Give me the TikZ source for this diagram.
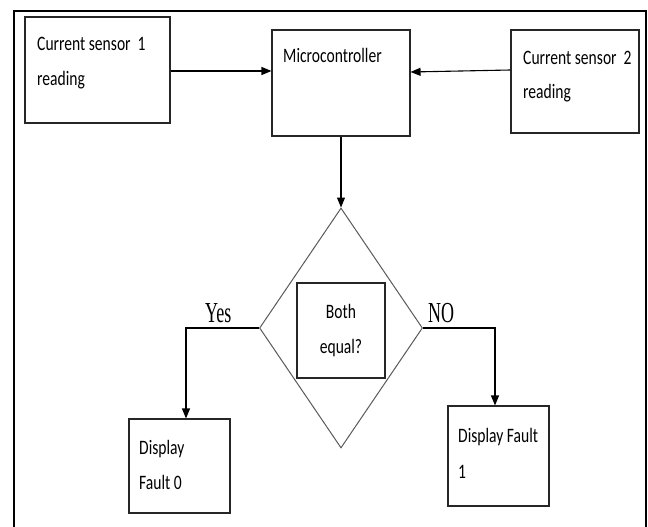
\documentclass[tikz,border=0pt]{standalone}
\usepackage{fontspec}
\setmainfont{Carlito}[FakeStretch=0.76]
\newfontfamily\tnr{Liberation Serif}[FakeStretch=0.62]
\usetikzlibrary{arrows.meta,shapes.geometric}
\begin{document}
\begin{tikzpicture}[x=1pt,y=-1pt,
  box/.style={draw=black!85,line width=1.1pt,inner sep=0pt,rectangle},
  txt/.style={anchor=base west,inner sep=0pt,font=\fontsize{20.5}{24}\selectfont},
  ctxt/.style={anchor=base,inner sep=0pt,font=\fontsize{20.5}{24}\selectfont},
  lbl/.style={anchor=base west,inner sep=0pt,font=\tnr\fontsize{29}{30}\selectfont},
  arr/.style={line width=1.1pt,-{Triangle[length=10pt,width=8pt]}},
  ln/.style={line width=1pt,draw=black!80}]
\useasboundingbox (0,0) rectangle (648,527);
\draw[line width=1.8pt] (14,527) -- (14,11) -- (646,11) -- (646,527);
% boxes
\node[box,minimum width=145pt,minimum height=106pt] (s1) at (97.5,70) {};
\node[box,minimum width=138pt,minimum height=106pt] (m) at (341,83) {};
\node[box,minimum width=128pt,minimum height=103pt] (s2) at (575,81.5) {};
\node[draw=black!65,line width=1pt,diamond,inner sep=0pt,minimum width=163pt,minimum height=240pt] (d) at (341,328) {};
\node[box,minimum width=88pt,minimum height=95pt] (q) at (341,330.5) {};
\node[box,minimum width=101pt,minimum height=94pt] (f0) at (179.5,466) {};
\node[box,minimum width=101pt,minimum height=100pt] (f1) at (498.5,456) {};
% texts
\node[txt] (s1a) at (37,51) {Current sensor\, 1};
\node[txt] (s1b) at (37,85) {reading};
\node[txt] (ma) at (283,63) {Microcontroller};
\node[txt] (s2a) at (523,65) {Current sensor\, 2};
\node[txt] (s2b) at (523,99) {reading};
\node[ctxt] (qa) at (341,318) {Both};
\node[ctxt] (qb) at (341,353) {equal?};
\node[txt] (f0a) at (139,454) {Display};
\node[txt] (f0b) at (139,489) {Fault 0};
\node[txt] (f1a) at (458,442) {Display Fault};
\node[txt] (f1b) at (458,478) {1};
\node[lbl] (yes) at (205,322) {Yes};
\node[lbl] (no) at (428,322) {NO};
% connectors
\draw[arr] ([yshift=-1pt]s1.east) -- ([yshift=12pt]m.west);
\draw[arr] ([yshift=11.5pt]s2.east -| s2.west) -- ([yshift=11pt]m.east);
\draw[arr] (m.south) -- (d.north);
\draw[arr] (d.west) -| ([xshift=6.5pt]f0.north);
\draw[arr] (d.east) -| ([xshift=-3.5pt]f1.north);
\end{tikzpicture}
\end{document}
